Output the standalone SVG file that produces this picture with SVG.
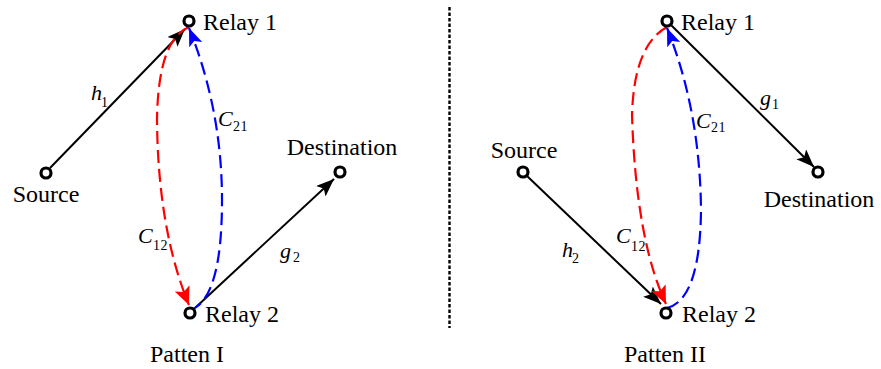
<svg xmlns="http://www.w3.org/2000/svg" width="881" height="369" viewBox="0 0 881 369">
<style>
.t{font-family:"Liberation Serif","Times New Roman",serif;font-size:24px;fill:#000}
.it{font-family:"Liberation Serif","Times New Roman",serif;font-size:22px;font-style:italic;fill:#000}
.sub{font-family:"Liberation Serif","Times New Roman",serif;font-size:14px;fill:#000;letter-spacing:0.5px}
.node{fill:#fff;stroke:#000;stroke-width:3.2}
.solid{fill:none;stroke:#000;stroke-width:2}
.red{fill:none;stroke:#ff0000;stroke-width:2.2;stroke-dasharray:13,6}
.blue{fill:none;stroke:#0000ff;stroke-width:2.2;stroke-dasharray:13,6}
.sep{fill:none;stroke:#000;stroke-width:2.4;stroke-dasharray:3.5,2}
</style>
<defs>
<marker id="ak" markerUnits="userSpaceOnUse" markerWidth="19" markerHeight="15" refX="18" refY="7" orient="auto"><path d="M0,0 L18,7 L0,14 L4,7 z" fill="#000"/></marker>
<marker id="ar" markerUnits="userSpaceOnUse" markerWidth="19" markerHeight="17" refX="18" refY="8" orient="auto"><path d="M0,0 L18,8 L0,16 L4,8 z" fill="#ff0000"/></marker>
<marker id="ab" markerUnits="userSpaceOnUse" markerWidth="19" markerHeight="15" refX="18" refY="7" orient="auto"><path d="M0,0 L18,7 L0,14 L4,7 z" fill="#0000ff"/></marker>
</defs>
<g id="connectors">
<path class="solid" d="M50,168 L185,29" marker-end="url(#ak)"/>
<path class="solid" d="M195,308 L334,179" marker-end="url(#ak)"/>
<path class="red" d="M189,27 Q158,40 157,120 Q158,230 189,305" marker-end="url(#ar)"/>
<path class="blue" d="M190,310 Q222,300 222,200 Q222,110 189,28" marker-end="url(#ab)"/>
<path class="solid" d="M527,176 L661,304" marker-end="url(#ak)"/>
<path class="solid" d="M671,25 L814,167" marker-end="url(#ak)"/>
<path class="red" d="M667,27 Q634,45 632,115 Q636,240 666,304" marker-end="url(#ar)"/>
<path class="blue" d="M667,308 Q700,300 701,210 Q700,110 667,28" marker-end="url(#ab)"/>
<path class="sep" d="M449.5,7 L449.5,328"/>
</g>
<g id="labels">
<text class="it" x="91" y="100">h</text><text class="sub" x="101" y="107">1</text>
<text class="it" x="218" y="126">C</text><text class="sub" x="233" y="131">21</text>
<text class="it" x="138" y="243">C</text><text class="sub" x="153" y="250">12</text>
<text class="it" x="280" y="258">g</text><text class="sub" x="293" y="262">2</text>
<text class="it" x="760" y="105">g</text><text class="sub" x="772" y="109">1</text>
<text class="it" x="696" y="128">C</text><text class="sub" x="711" y="132">21</text>
<text class="it" x="616" y="243">C</text><text class="sub" x="631" y="251">12</text>
<text class="it" x="562" y="257">h</text><text class="sub" x="572" y="263">2</text>
<text class="t" x="150" y="362">Patten I</text>
<text class="t" x="624" y="362">Patten II</text>
</g>
<g id="L-source"><circle class="node" cx="46" cy="173" r="5"/><text class="t" x="46" y="202" text-anchor="middle">Source</text></g>
<g id="L-relay1"><circle class="node" cx="189" cy="21" r="5"/><text class="t" x="203" y="30">Relay 1</text></g>
<g id="L-relay2"><circle class="node" cx="190" cy="313" r="5"/><text class="t" x="205" y="322">Relay 2</text></g>
<g id="L-dest"><circle class="node" cx="340" cy="172" r="5"/><text class="t" x="342" y="155" text-anchor="middle">Destination</text></g>
<g id="R-source"><circle class="node" cx="523" cy="172" r="5"/><text class="t" x="524" y="158" text-anchor="middle">Source</text></g>
<g id="R-relay1"><circle class="node" cx="667" cy="21" r="5"/><text class="t" x="681" y="30">Relay 1</text></g>
<g id="R-relay2"><circle class="node" cx="666" cy="313" r="5"/><text class="t" x="682" y="322">Relay 2</text></g>
<g id="R-dest"><circle class="node" cx="818" cy="172" r="5"/><text class="t" x="819" y="207" text-anchor="middle">Destination</text></g>
</svg>
